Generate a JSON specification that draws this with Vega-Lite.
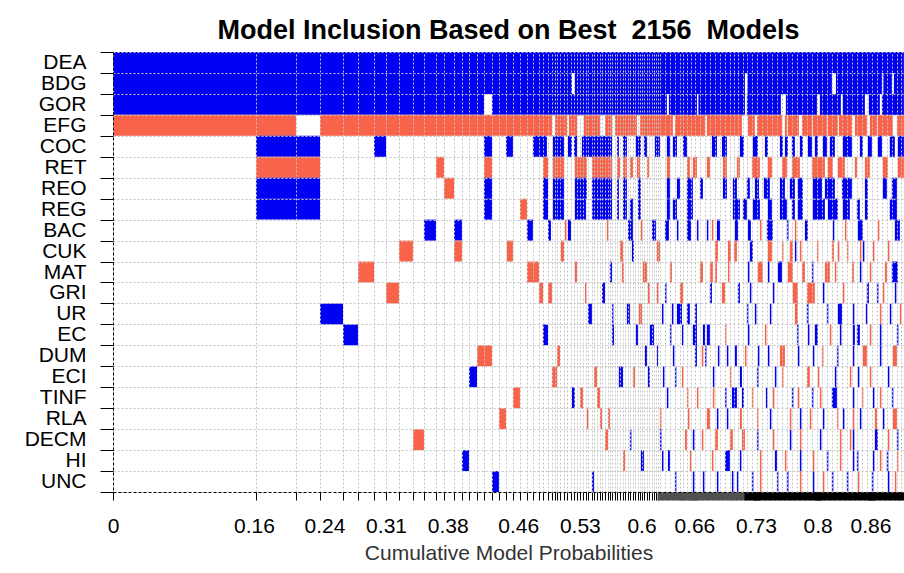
{
"$schema": "https://vega.github.io/schema/vega-lite/v6.json",
"width": 791, "height": 440,
"autosize": {"type": "none"},
"padding": {"left": 113, "top": 52, "right": 0, "bottom": 81},
"background": "white",
"config": {"view": {"stroke": null}},
"title": {"text": "Model Inclusion Based on Best\u00a0 2156\u00a0 Models", "font": "Liberation Sans", "fontSize": 27, "fontWeight": "bold", "color": "black", "anchor": "middle", "offset": -4},
"data": {"values": [
{"v":"DEA","a":0,"b":0.8979,"s":"+"},
{"v":"BDG","a":0,"b":0.521,"s":"+"},{"v":"BDG","a":0.5244,"b":0.7174,"s":"+"},{"v":"BDG","a":0.7202,"b":0.8161,"s":"+"},{"v":"BDG","a":0.8207,"b":0.8729,"s":"+"},{"v":"BDG","a":0.8746,"b":0.8842,"s":"+"},{"v":"BDG","a":0.8865,"b":0.8979,"s":"+"},
{"v":"GOR","a":0,"b":0.4211,"s":"+"},{"v":"GOR","a":0.4302,"b":0.6288,"s":"+"},{"v":"GOR","a":0.6311,"b":0.6629,"s":"+"},{"v":"GOR","a":0.6646,"b":0.7174,"s":"+"},{"v":"GOR","a":0.7196,"b":0.7582,"s":"+"},{"v":"GOR","a":0.7639,"b":0.7991,"s":"+"},{"v":"GOR","a":0.8025,"b":0.8263,"s":"+"},{"v":"GOR","a":0.8286,"b":0.8536,"s":"+"},{"v":"GOR","a":0.8581,"b":0.8706,"s":"+"},{"v":"GOR","a":0.8729,"b":0.8979,"s":"+"},
{"v":"EFG","a":0,"b":0.2077,"s":"-"},{"v":"EFG","a":0.235,"b":0.4983,"s":"-"},{"v":"EFG","a":0.5017,"b":0.5153,"s":"-"},{"v":"EFG","a":0.5176,"b":0.5267,"s":"-"},{"v":"EFG","a":0.5346,"b":0.5528,"s":"-"},{"v":"EFG","a":0.5585,"b":0.5664,"s":"-"},{"v":"EFG","a":0.5698,"b":0.5948,"s":"-"},{"v":"EFG","a":0.5982,"b":0.6356,"s":"-"},{"v":"EFG","a":0.6379,"b":0.672,"s":"-"},{"v":"EFG","a":0.6742,"b":0.714,"s":"-"},{"v":"EFG","a":0.7208,"b":0.7287,"s":"-"},{"v":"EFG","a":0.731,"b":0.7594,"s":"-"},{"v":"EFG","a":0.7628,"b":0.765,"s":"-"},{"v":"EFG","a":0.7662,"b":0.7787,"s":"-"},{"v":"EFG","a":0.7821,"b":0.7934,"s":"-"},{"v":"EFG","a":0.7945,"b":0.8104,"s":"-"},{"v":"EFG","a":0.8116,"b":0.8229,"s":"-"},{"v":"EFG","a":0.8241,"b":0.8388,"s":"-"},{"v":"EFG","a":0.8422,"b":0.8558,"s":"-"},{"v":"EFG","a":0.8592,"b":0.8672,"s":"-"},{"v":"EFG","a":0.8683,"b":0.8854,"s":"-"},{"v":"EFG","a":0.8899,"b":0.8979,"s":"-"},
{"v":"COC","a":0.1623,"b":0.235,"s":"+"},{"v":"COC","a":0.2963,"b":0.3099,"s":"+"},{"v":"COC","a":0.4211,"b":0.4302,"s":"+"},{"v":"COC","a":0.4461,"b":0.454,"s":"+"},{"v":"COC","a":0.4767,"b":0.4926,"s":"+"},{"v":"COC","a":0.4994,"b":0.5119,"s":"+"},{"v":"COC","a":0.5165,"b":0.521,"s":"+"},{"v":"COC","a":0.5233,"b":0.5267,"s":"+"},{"v":"COC","a":0.5323,"b":0.5664,"s":"+"},{"v":"COC","a":0.5721,"b":0.5743,"s":"+"},{"v":"COC","a":0.5789,"b":0.5834,"s":"+"},{"v":"COC","a":0.5936,"b":0.5993,"s":"+"},{"v":"COC","a":0.6027,"b":0.6061,"s":"+"},{"v":"COC","a":0.6152,"b":0.6209,"s":"+"},{"v":"COC","a":0.6288,"b":0.6322,"s":"+"},{"v":"COC","a":0.6356,"b":0.6402,"s":"+"},{"v":"COC","a":0.647,"b":0.6515,"s":"+"},{"v":"COC","a":0.6799,"b":0.6856,"s":"+"},{"v":"COC","a":0.6913,"b":0.6969,"s":"+"},{"v":"COC","a":0.7117,"b":0.7162,"s":"+"},{"v":"COC","a":0.7264,"b":0.7321,"s":"+"},{"v":"COC","a":0.7401,"b":0.7435,"s":"+"},{"v":"COC","a":0.7571,"b":0.7605,"s":"+"},{"v":"COC","a":0.7628,"b":0.7662,"s":"+"},{"v":"COC","a":0.7707,"b":0.7741,"s":"+"},{"v":"COC","a":0.7798,"b":0.7832,"s":"+"},{"v":"COC","a":0.7889,"b":0.7934,"s":"+"},{"v":"COC","a":0.7968,"b":0.8002,"s":"+"},{"v":"COC","a":0.8059,"b":0.8104,"s":"+"},{"v":"COC","a":0.8138,"b":0.8195,"s":"+"},{"v":"COC","a":0.8286,"b":0.8388,"s":"+"},{"v":"COC","a":0.8479,"b":0.8513,"s":"+"},{"v":"COC","a":0.857,"b":0.8615,"s":"+"},{"v":"COC","a":0.8683,"b":0.8729,"s":"+"},{"v":"COC","a":0.8819,"b":0.8876,"s":"+"},{"v":"COC","a":0.891,"b":0.8979,"s":"+"},
{"v":"RET","a":0.1623,"b":0.235,"s":"-"},{"v":"RET","a":0.3666,"b":0.3757,"s":"-"},{"v":"RET","a":0.4211,"b":0.4302,"s":"-"},{"v":"RET","a":0.4881,"b":0.4938,"s":"-"},{"v":"RET","a":0.4994,"b":0.5119,"s":"-"},{"v":"RET","a":0.5244,"b":0.538,"s":"-"},{"v":"RET","a":0.5437,"b":0.5664,"s":"-"},{"v":"RET","a":0.5721,"b":0.5755,"s":"-"},{"v":"RET","a":0.5789,"b":0.5834,"s":"-"},{"v":"RET","a":0.5868,"b":0.5902,"s":"-"},{"v":"RET","a":0.5948,"b":0.5982,"s":"-"},{"v":"RET","a":0.6061,"b":0.6084,"s":"-"},{"v":"RET","a":0.6288,"b":0.6322,"s":"-"},{"v":"RET","a":0.6515,"b":0.6549,"s":"-"},{"v":"RET","a":0.6583,"b":0.6629,"s":"-"},{"v":"RET","a":0.6742,"b":0.6776,"s":"-"},{"v":"RET","a":0.6924,"b":0.6969,"s":"-"},{"v":"RET","a":0.7083,"b":0.7117,"s":"-"},{"v":"RET","a":0.7253,"b":0.7344,"s":"-"},{"v":"RET","a":0.7435,"b":0.748,"s":"-"},{"v":"RET","a":0.7594,"b":0.765,"s":"-"},{"v":"RET","a":0.7707,"b":0.7798,"s":"-"},{"v":"RET","a":0.7934,"b":0.8082,"s":"-"},{"v":"RET","a":0.8116,"b":0.8172,"s":"-"},{"v":"RET","a":0.8229,"b":0.8309,"s":"-"},{"v":"RET","a":0.8422,"b":0.8445,"s":"-"},{"v":"RET","a":0.8536,"b":0.8592,"s":"-"},{"v":"RET","a":0.874,"b":0.8797,"s":"-"},{"v":"RET","a":0.891,"b":0.8979,"s":"-"},
{"v":"REO","a":0.3757,"b":0.3871,"s":"-"},{"v":"REO","a":0.1623,"b":0.235,"s":"+"},{"v":"REO","a":0.4211,"b":0.4302,"s":"+"},{"v":"REO","a":0.4881,"b":0.4938,"s":"+"},{"v":"REO","a":0.4994,"b":0.5119,"s":"+"},{"v":"REO","a":0.5244,"b":0.538,"s":"+"},{"v":"REO","a":0.5437,"b":0.5664,"s":"+"},{"v":"REO","a":0.5721,"b":0.5743,"s":"+"},{"v":"REO","a":0.5789,"b":0.5834,"s":"+"},{"v":"REO","a":0.5959,"b":0.5993,"s":"+"},{"v":"REO","a":0.6288,"b":0.6322,"s":"+"},{"v":"REO","a":0.6402,"b":0.6436,"s":"+"},{"v":"REO","a":0.6515,"b":0.6583,"s":"+"},{"v":"REO","a":0.6663,"b":0.6697,"s":"+"},{"v":"REO","a":0.6924,"b":0.6969,"s":"+"},{"v":"REO","a":0.7037,"b":0.7083,"s":"+"},{"v":"REO","a":0.7196,"b":0.723,"s":"+"},{"v":"REO","a":0.7287,"b":0.7333,"s":"+"},{"v":"REO","a":0.7389,"b":0.7457,"s":"+"},{"v":"REO","a":0.7571,"b":0.7628,"s":"+"},{"v":"REO","a":0.7684,"b":0.7741,"s":"+"},{"v":"REO","a":0.7775,"b":0.7832,"s":"+"},{"v":"REO","a":0.7945,"b":0.8048,"s":"+"},{"v":"REO","a":0.8082,"b":0.8195,"s":"+"},{"v":"REO","a":0.8275,"b":0.8388,"s":"+"},{"v":"REO","a":0.8536,"b":0.857,"s":"+"},{"v":"REO","a":0.874,"b":0.8785,"s":"+"},{"v":"REO","a":0.8842,"b":0.8899,"s":"+"},
{"v":"REG","a":0.462,"b":0.4699,"s":"-"},{"v":"REG","a":0.1623,"b":0.235,"s":"+"},{"v":"REG","a":0.4211,"b":0.4302,"s":"+"},{"v":"REG","a":0.4881,"b":0.4938,"s":"+"},{"v":"REG","a":0.4994,"b":0.5119,"s":"+"},{"v":"REG","a":0.5244,"b":0.5369,"s":"+"},{"v":"REG","a":0.5437,"b":0.5664,"s":"+"},{"v":"REG","a":0.5721,"b":0.5743,"s":"+"},{"v":"REG","a":0.5789,"b":0.5834,"s":"+"},{"v":"REG","a":0.5868,"b":0.5902,"s":"+"},{"v":"REG","a":0.5959,"b":0.5993,"s":"+"},{"v":"REG","a":0.6288,"b":0.6322,"s":"+"},{"v":"REG","a":0.6356,"b":0.6402,"s":"+"},{"v":"REG","a":0.6515,"b":0.6583,"s":"+"},{"v":"REG","a":0.7037,"b":0.7117,"s":"+"},{"v":"REG","a":0.7151,"b":0.7196,"s":"+"},{"v":"REG","a":0.7264,"b":0.7344,"s":"+"},{"v":"REG","a":0.7435,"b":0.748,"s":"+"},{"v":"REG","a":0.7571,"b":0.765,"s":"+"},{"v":"REG","a":0.7707,"b":0.7741,"s":"+"},{"v":"REG","a":0.7775,"b":0.7832,"s":"+"},{"v":"REG","a":0.7945,"b":0.8082,"s":"+"},{"v":"REG","a":0.8116,"b":0.8229,"s":"+"},{"v":"REG","a":0.8286,"b":0.8365,"s":"+"},{"v":"REG","a":0.8445,"b":0.8479,"s":"+"},{"v":"REG","a":0.8536,"b":0.857,"s":"+"},{"v":"REG","a":0.8819,"b":0.8899,"s":"+"},
{"v":"BAC","a":0.353,"b":0.3666,"s":"+"},{"v":"BAC","a":0.3871,"b":0.3961,"s":"+"},{"v":"BAC","a":0.4699,"b":0.4767,"s":"+"},{"v":"BAC","a":0.4938,"b":0.4972,"s":"+"},{"v":"BAC","a":0.5165,"b":0.5199,"s":"+"},{"v":"BAC","a":0.5846,"b":0.5902,"s":"+"},{"v":"BAC","a":0.6118,"b":0.6163,"s":"+"},{"v":"BAC","a":0.6266,"b":0.6311,"s":"+"},{"v":"BAC","a":0.6402,"b":0.6419,"s":"+"},{"v":"BAC","a":0.6515,"b":0.6561,"s":"+"},{"v":"BAC","a":0.6629,"b":0.6646,"s":"+"},{"v":"BAC","a":0.6742,"b":0.6759,"s":"+"},{"v":"BAC","a":0.6856,"b":0.689,"s":"+"},{"v":"BAC","a":0.706,"b":0.7094,"s":"+"},{"v":"BAC","a":0.7208,"b":0.7242,"s":"+"},{"v":"BAC","a":0.7423,"b":0.7491,"s":"+"},{"v":"BAC","a":0.765,"b":0.7668,"s":"+"},{"v":"BAC","a":0.7855,"b":0.7889,"s":"+"},{"v":"BAC","a":0.8172,"b":0.8189,"s":"+"},{"v":"BAC","a":0.8456,"b":0.8513,"s":"+"},{"v":"BAC","a":0.8876,"b":0.8933,"s":"+"},{"v":"BAC","a":0.5131,"b":0.5148,"s":"-"},{"v":"BAC","a":0.5607,"b":0.5624,"s":"-"},{"v":"BAC","a":0.5993,"b":0.601,"s":"-"},{"v":"BAC","a":0.6799,"b":0.6816,"s":"-"},{"v":"BAC","a":0.7344,"b":0.7361,"s":"-"},{"v":"BAC","a":0.7741,"b":0.7758,"s":"-"},{"v":"BAC","a":0.8309,"b":0.8326,"s":"-"},{"v":"BAC","a":0.8683,"b":0.87,"s":"-"},
{"v":"CUK","a":0.3246,"b":0.3405,"s":"-"},{"v":"CUK","a":0.3871,"b":0.3961,"s":"-"},{"v":"CUK","a":0.4472,"b":0.454,"s":"-"},{"v":"CUK","a":0.5085,"b":0.5119,"s":"-"},{"v":"CUK","a":0.5755,"b":0.5789,"s":"-"},{"v":"CUK","a":0.6175,"b":0.6209,"s":"-"},{"v":"CUK","a":0.6833,"b":0.6867,"s":"-"},{"v":"CUK","a":0.6981,"b":0.7015,"s":"-"},{"v":"CUK","a":0.7049,"b":0.7083,"s":"-"},{"v":"CUK","a":0.7435,"b":0.748,"s":"-"},{"v":"CUK","a":0.7594,"b":0.7611,"s":"-"},{"v":"CUK","a":0.7684,"b":0.7718,"s":"-"},{"v":"CUK","a":0.7798,"b":0.7815,"s":"-"},{"v":"CUK","a":0.7991,"b":0.8008,"s":"-"},{"v":"CUK","a":0.8161,"b":0.8184,"s":"-"},{"v":"CUK","a":0.8229,"b":0.8246,"s":"-"},{"v":"CUK","a":0.8331,"b":0.8348,"s":"-"},{"v":"CUK","a":0.8479,"b":0.8496,"s":"-"},{"v":"CUK","a":0.8627,"b":0.8644,"s":"-"},{"v":"CUK","a":0.8797,"b":0.8814,"s":"-"},{"v":"CUK","a":0.5891,"b":0.5914,"s":"+"},{"v":"CUK","a":0.723,"b":0.7264,"s":"+"},{"v":"CUK","a":0.7741,"b":0.7758,"s":"+"},{"v":"CUK","a":0.8513,"b":0.853,"s":"+"},
{"v":"MAT","a":0.2781,"b":0.2963,"s":"-"},{"v":"MAT","a":0.4699,"b":0.4835,"s":"-"},{"v":"MAT","a":0.5244,"b":0.5267,"s":"-"},{"v":"MAT","a":0.5778,"b":0.58,"s":"-"},{"v":"MAT","a":0.6016,"b":0.6061,"s":"-"},{"v":"MAT","a":0.6322,"b":0.6345,"s":"-"},{"v":"MAT","a":0.6663,"b":0.6697,"s":"-"},{"v":"MAT","a":0.6776,"b":0.681,"s":"-"},{"v":"MAT","a":0.6833,"b":0.6856,"s":"-"},{"v":"MAT","a":0.6981,"b":0.6998,"s":"-"},{"v":"MAT","a":0.7321,"b":0.7378,"s":"-"},{"v":"MAT","a":0.7662,"b":0.7718,"s":"-"},{"v":"MAT","a":0.7821,"b":0.7855,"s":"-"},{"v":"MAT","a":0.8082,"b":0.8138,"s":"-"},{"v":"MAT","a":0.8195,"b":0.8212,"s":"-"},{"v":"MAT","a":0.8388,"b":0.8411,"s":"-"},{"v":"MAT","a":0.8592,"b":0.8609,"s":"-"},{"v":"MAT","a":0.8763,"b":0.8785,"s":"-"},{"v":"MAT","a":0.5641,"b":0.5664,"s":"+"},{"v":"MAT","a":0.7208,"b":0.7225,"s":"+"},{"v":"MAT","a":0.7435,"b":0.7452,"s":"+"},{"v":"MAT","a":0.7548,"b":0.7594,"s":"+"},{"v":"MAT","a":0.8842,"b":0.891,"s":"+"},{"v":"MAT","a":0.7934,"b":0.7951,"s":"+"},{"v":"MAT","a":0.8479,"b":0.8496,"s":"+"},
{"v":"GRI","a":0.3099,"b":0.3246,"s":"-"},{"v":"GRI","a":0.4835,"b":0.4881,"s":"-"},{"v":"GRI","a":0.4938,"b":0.4983,"s":"-"},{"v":"GRI","a":0.5358,"b":0.5375,"s":"-"},{"v":"GRI","a":0.6073,"b":0.6095,"s":"-"},{"v":"GRI","a":0.6175,"b":0.6192,"s":"-"},{"v":"GRI","a":0.6436,"b":0.647,"s":"-"},{"v":"GRI","a":0.6913,"b":0.6947,"s":"-"},{"v":"GRI","a":0.7718,"b":0.7775,"s":"-"},{"v":"GRI","a":0.7877,"b":0.7968,"s":"-"},{"v":"GRI","a":0.8286,"b":0.8303,"s":"-"},{"v":"GRI","a":0.874,"b":0.8757,"s":"-"},{"v":"GRI","a":0.5551,"b":0.5585,"s":"+"},{"v":"GRI","a":0.6266,"b":0.6283,"s":"+"},{"v":"GRI","a":0.6776,"b":0.6799,"s":"+"},{"v":"GRI","a":0.7094,"b":0.7117,"s":"+"},{"v":"GRI","a":0.723,"b":0.7247,"s":"+"},{"v":"GRI","a":0.7491,"b":0.7508,"s":"+"},{"v":"GRI","a":0.8059,"b":0.8076,"s":"+"},{"v":"GRI","a":0.8558,"b":0.8581,"s":"+"},{"v":"GRI","a":0.8672,"b":0.8689,"s":"+"},{"v":"GRI","a":0.8876,"b":0.8893,"s":"+"},
{"v":"UR","a":0.235,"b":0.2611,"s":"+"},{"v":"UR","a":0.5392,"b":0.5437,"s":"+"},{"v":"UR","a":0.5664,"b":0.5681,"s":"+"},{"v":"UR","a":0.5834,"b":0.5868,"s":"+"},{"v":"UR","a":0.6232,"b":0.6249,"s":"+"},{"v":"UR","a":0.6345,"b":0.6362,"s":"+"},{"v":"UR","a":0.6402,"b":0.6459,"s":"+"},{"v":"UR","a":0.6515,"b":0.6549,"s":"+"},{"v":"UR","a":0.6606,"b":0.6629,"s":"+"},{"v":"UR","a":0.7196,"b":0.7213,"s":"+"},{"v":"UR","a":0.7287,"b":0.7304,"s":"+"},{"v":"UR","a":0.7457,"b":0.7474,"s":"+"},{"v":"UR","a":0.7877,"b":0.7895,"s":"+"},{"v":"UR","a":0.8104,"b":0.8121,"s":"+"},{"v":"UR","a":0.8229,"b":0.8275,"s":"+"},{"v":"UR","a":0.8399,"b":0.8416,"s":"+"},{"v":"UR","a":0.8547,"b":0.8564,"s":"+"},{"v":"UR","a":0.8819,"b":0.8836,"s":"+"},{"v":"UR","a":0.597,"b":0.6005,"s":"-"},{"v":"UR","a":0.7741,"b":0.7775,"s":"-"},{"v":"UR","a":0.8706,"b":0.8723,"s":"-"},{"v":"UR","a":0.8933,"b":0.895,"s":"-"},
{"v":"EC","a":0.2611,"b":0.2781,"s":"+"},{"v":"EC","a":0.4881,"b":0.4938,"s":"+"},{"v":"EC","a":0.5664,"b":0.5687,"s":"+"},{"v":"EC","a":0.5936,"b":0.5959,"s":"+"},{"v":"EC","a":0.6095,"b":0.6141,"s":"+"},{"v":"EC","a":0.6322,"b":0.6339,"s":"+"},{"v":"EC","a":0.6459,"b":0.6476,"s":"+"},{"v":"EC","a":0.6583,"b":0.6629,"s":"+"},{"v":"EC","a":0.6697,"b":0.672,"s":"+"},{"v":"EC","a":0.6742,"b":0.6776,"s":"+"},{"v":"EC","a":0.7208,"b":0.7225,"s":"+"},{"v":"EC","a":0.7764,"b":0.7781,"s":"+"},{"v":"EC","a":0.7889,"b":0.7906,"s":"+"},{"v":"EC","a":0.7968,"b":0.8002,"s":"+"},{"v":"EC","a":0.8252,"b":0.8269,"s":"+"},{"v":"EC","a":0.8399,"b":0.8422,"s":"+"},{"v":"EC","a":0.8445,"b":0.8479,"s":"+"},{"v":"EC","a":0.8706,"b":0.8723,"s":"+"},{"v":"EC","a":0.8899,"b":0.8916,"s":"+"},{"v":"EC","a":0.6947,"b":0.6964,"s":"-"},{"v":"EC","a":0.7401,"b":0.7418,"s":"-"},{"v":"EC","a":0.8138,"b":0.8155,"s":"-"},{"v":"EC","a":0.8592,"b":0.8609,"s":"-"},
{"v":"DUM","a":0.4132,"b":0.4302,"s":"-"},{"v":"DUM","a":0.504,"b":0.5074,"s":"-"},{"v":"DUM","a":0.7571,"b":0.7628,"s":"-"},{"v":"DUM","a":0.8513,"b":0.8558,"s":"-"},{"v":"DUM","a":0.8854,"b":0.8899,"s":"-"},{"v":"DUM","a":0.7174,"b":0.7191,"s":"-"},{"v":"DUM","a":0.8048,"b":0.8065,"s":"-"},{"v":"DUM","a":0.6685,"b":0.6702,"s":"-"},{"v":"DUM","a":0.6039,"b":0.6061,"s":"+"},{"v":"DUM","a":0.6175,"b":0.6186,"s":"+"},{"v":"DUM","a":0.6356,"b":0.6373,"s":"+"},{"v":"DUM","a":0.6606,"b":0.6629,"s":"+"},{"v":"DUM","a":0.672,"b":0.6737,"s":"+"},{"v":"DUM","a":0.6867,"b":0.6884,"s":"+"},{"v":"DUM","a":0.6969,"b":0.6986,"s":"+"},{"v":"DUM","a":0.706,"b":0.7083,"s":"+"},{"v":"DUM","a":0.7321,"b":0.7338,"s":"+"},{"v":"DUM","a":0.7435,"b":0.7452,"s":"+"},{"v":"DUM","a":0.7775,"b":0.7792,"s":"+"},{"v":"DUM","a":0.7945,"b":0.7962,"s":"+"},{"v":"DUM","a":0.8218,"b":0.8235,"s":"+"},{"v":"DUM","a":0.8399,"b":0.8416,"s":"+"},{"v":"DUM","a":0.8706,"b":0.8723,"s":"+"},
{"v":"ECI","a":0.4041,"b":0.4132,"s":"+"},{"v":"ECI","a":0.5743,"b":0.5789,"s":"+"},{"v":"ECI","a":0.6073,"b":0.6095,"s":"+"},{"v":"ECI","a":0.6243,"b":0.626,"s":"+"},{"v":"ECI","a":0.6379,"b":0.6396,"s":"+"},{"v":"ECI","a":0.681,"b":0.6827,"s":"+"},{"v":"ECI","a":0.7117,"b":0.714,"s":"+"},{"v":"ECI","a":0.731,"b":0.7327,"s":"+"},{"v":"ECI","a":0.7514,"b":0.7531,"s":"+"},{"v":"ECI","a":0.8195,"b":0.8212,"s":"+"},{"v":"ECI","a":0.8456,"b":0.8473,"s":"+"},{"v":"ECI","a":0.8797,"b":0.8814,"s":"+"},{"v":"ECI","a":0.4983,"b":0.504,"s":"-"},{"v":"ECI","a":0.546,"b":0.5494,"s":"-"},{"v":"ECI","a":0.5902,"b":0.5925,"s":"-"},{"v":"ECI","a":0.6459,"b":0.6476,"s":"-"},{"v":"ECI","a":0.7003,"b":0.702,"s":"-"},{"v":"ECI","a":0.7594,"b":0.7611,"s":"-"},{"v":"ECI","a":0.7877,"b":0.7911,"s":"-"},{"v":"ECI","a":0.8002,"b":0.8019,"s":"-"},{"v":"ECI","a":0.8365,"b":0.8382,"s":"-"},{"v":"ECI","a":0.8592,"b":0.8609,"s":"-"},
{"v":"TINF","a":0.454,"b":0.462,"s":"-"},{"v":"TINF","a":0.5301,"b":0.5335,"s":"-"},{"v":"TINF","a":0.5494,"b":0.5528,"s":"-"},{"v":"TINF","a":0.6515,"b":0.6532,"s":"-"},{"v":"TINF","a":0.6629,"b":0.6646,"s":"-"},{"v":"TINF","a":0.681,"b":0.6827,"s":"-"},{"v":"TINF","a":0.7253,"b":0.727,"s":"-"},{"v":"TINF","a":0.7491,"b":0.7508,"s":"-"},{"v":"TINF","a":0.7775,"b":0.7792,"s":"-"},{"v":"TINF","a":0.8025,"b":0.8042,"s":"-"},{"v":"TINF","a":0.8502,"b":0.8518,"s":"-"},{"v":"TINF","a":0.8706,"b":0.8723,"s":"-"},{"v":"TINF","a":0.521,"b":0.5244,"s":"+"},{"v":"TINF","a":0.6288,"b":0.6305,"s":"+"},{"v":"TINF","a":0.6947,"b":0.6964,"s":"+"},{"v":"TINF","a":0.7026,"b":0.7083,"s":"+"},{"v":"TINF","a":0.714,"b":0.7162,"s":"+"},{"v":"TINF","a":0.7412,"b":0.7429,"s":"+"},{"v":"TINF","a":0.7707,"b":0.7724,"s":"+"},{"v":"TINF","a":0.7934,"b":0.7951,"s":"+"},{"v":"TINF","a":0.8161,"b":0.8218,"s":"+"},{"v":"TINF","a":0.8399,"b":0.8416,"s":"+"},{"v":"TINF","a":0.8627,"b":0.8644,"s":"+"},{"v":"TINF","a":0.8842,"b":0.8859,"s":"+"},
{"v":"RLA","a":0.4381,"b":0.4461,"s":"-"},{"v":"RLA","a":0.538,"b":0.5397,"s":"-"},{"v":"RLA","a":0.5528,"b":0.5551,"s":"-"},{"v":"RLA","a":0.5619,"b":0.5641,"s":"-"},{"v":"RLA","a":0.6209,"b":0.6226,"s":"-"},{"v":"RLA","a":0.6527,"b":0.6544,"s":"-"},{"v":"RLA","a":0.6742,"b":0.6776,"s":"-"},{"v":"RLA","a":0.7117,"b":0.714,"s":"-"},{"v":"RLA","a":0.731,"b":0.7327,"s":"-"},{"v":"RLA","a":0.7684,"b":0.7701,"s":"-"},{"v":"RLA","a":0.7911,"b":0.7928,"s":"-"},{"v":"RLA","a":0.8218,"b":0.8235,"s":"-"},{"v":"RLA","a":0.8399,"b":0.8416,"s":"-"},{"v":"RLA","a":0.8649,"b":0.8672,"s":"-"},{"v":"RLA","a":0.8854,"b":0.8899,"s":"-"},{"v":"RLA","a":0.6856,"b":0.6873,"s":"+"},{"v":"RLA","a":0.6969,"b":0.6986,"s":"+"},{"v":"RLA","a":0.7457,"b":0.7474,"s":"+"},{"v":"RLA","a":0.7798,"b":0.7815,"s":"+"},{"v":"RLA","a":0.8059,"b":0.8076,"s":"+"},{"v":"RLA","a":0.8286,"b":0.8303,"s":"+"},{"v":"RLA","a":0.8479,"b":0.8496,"s":"+"},{"v":"RLA","a":0.874,"b":0.8757,"s":"+"},
{"v":"DECM","a":0.3405,"b":0.353,"s":"-"},{"v":"DECM","a":0.5585,"b":0.5619,"s":"-"},{"v":"DECM","a":0.6493,"b":0.6515,"s":"-"},{"v":"DECM","a":0.6685,"b":0.6702,"s":"-"},{"v":"DECM","a":0.6833,"b":0.6867,"s":"-"},{"v":"DECM","a":0.7003,"b":0.7037,"s":"-"},{"v":"DECM","a":0.714,"b":0.7174,"s":"-"},{"v":"DECM","a":0.7491,"b":0.7508,"s":"-"},{"v":"DECM","a":0.7798,"b":0.7815,"s":"-"},{"v":"DECM","a":0.8252,"b":0.8269,"s":"-"},{"v":"DECM","a":0.8365,"b":0.8382,"s":"-"},{"v":"DECM","a":0.8797,"b":0.8814,"s":"-"},{"v":"DECM","a":0.5868,"b":0.5885,"s":"+"},{"v":"DECM","a":0.6209,"b":0.6226,"s":"+"},{"v":"DECM","a":0.6583,"b":0.66,"s":"+"},{"v":"DECM","a":0.731,"b":0.7327,"s":"+"},{"v":"DECM","a":0.7684,"b":0.7701,"s":"+"},{"v":"DECM","a":0.8025,"b":0.8042,"s":"+"},{"v":"DECM","a":0.8399,"b":0.8416,"s":"+"},{"v":"DECM","a":0.8649,"b":0.8683,"s":"+"},{"v":"DECM","a":0.8899,"b":0.8916,"s":"+"},
{"v":"HI","a":0.3961,"b":0.4041,"s":"+"},{"v":"HI","a":0.5993,"b":0.6027,"s":"+"},{"v":"HI","a":0.6232,"b":0.6249,"s":"+"},{"v":"HI","a":0.63,"b":0.6322,"s":"+"},{"v":"HI","a":0.6947,"b":0.7003,"s":"+"},{"v":"HI","a":0.7117,"b":0.7134,"s":"+"},{"v":"HI","a":0.7514,"b":0.7537,"s":"+"},{"v":"HI","a":0.7798,"b":0.7815,"s":"+"},{"v":"HI","a":0.8104,"b":0.8121,"s":"+"},{"v":"HI","a":0.8399,"b":0.8416,"s":"+"},{"v":"HI","a":0.8445,"b":0.8462,"s":"+"},{"v":"HI","a":0.8627,"b":0.8644,"s":"+"},{"v":"HI","a":0.8785,"b":0.8802,"s":"+"},{"v":"HI","a":0.5789,"b":0.5812,"s":"-"},{"v":"HI","a":0.6549,"b":0.6566,"s":"-"},{"v":"HI","a":0.6799,"b":0.6816,"s":"-"},{"v":"HI","a":0.7344,"b":0.7361,"s":"-"},{"v":"HI","a":0.7628,"b":0.7645,"s":"-"},{"v":"HI","a":0.7945,"b":0.7962,"s":"-"},{"v":"HI","a":0.8252,"b":0.8269,"s":"-"},{"v":"HI","a":0.8706,"b":0.8723,"s":"-"},{"v":"HI","a":0.8899,"b":0.8916,"s":"-"},
{"v":"UNC","a":0.4302,"b":0.4381,"s":"+"},{"v":"UNC","a":0.5437,"b":0.546,"s":"+"},{"v":"UNC","a":0.6379,"b":0.6396,"s":"+"},{"v":"UNC","a":0.6583,"b":0.66,"s":"+"},{"v":"UNC","a":0.6697,"b":0.6714,"s":"+"},{"v":"UNC","a":0.6856,"b":0.6873,"s":"+"},{"v":"UNC","a":0.7026,"b":0.7043,"s":"+"},{"v":"UNC","a":0.7083,"b":0.71,"s":"+"},{"v":"UNC","a":0.7253,"b":0.727,"s":"+"},{"v":"UNC","a":0.7537,"b":0.7554,"s":"+"},{"v":"UNC","a":0.765,"b":0.7668,"s":"+"},{"v":"UNC","a":0.7945,"b":0.7962,"s":"+"},{"v":"UNC","a":0.8161,"b":0.8178,"s":"+"},{"v":"UNC","a":0.8331,"b":0.8348,"s":"+"},{"v":"UNC","a":0.8615,"b":0.8632,"s":"+"},{"v":"UNC","a":0.8797,"b":0.8814,"s":"+"},{"v":"UNC","a":0.7344,"b":0.7361,"s":"-"},{"v":"UNC","a":0.7798,"b":0.7815,"s":"-"},{"v":"UNC","a":0.8059,"b":0.8076,"s":"-"},{"v":"UNC","a":0.8456,"b":0.8473,"s":"-"},{"v":"UNC","a":0.8876,"b":0.8893,"s":"-"}
]},
"mark": {"type": "rect"},
"encoding": {
  "x": {"field": "a", "type": "quantitative",
    "scale": {"domain": [0, 0.898], "nice": false, "zero": false},
    "axis": {
      "title": "Cumulative Model Probabilities", "titleFont": "Liberation Sans", "titleFontSize": 21, "titleFontWeight": "normal", "titleColor": "#333333", "titlePadding": 6,
      "values": [0,0.1623,0.2077,0.235,0.2611,0.2781,0.2963,0.3099,0.3246,0.3405,0.353,0.3666,0.3757,0.3871,0.3961,0.4041,0.4132,0.4211,0.4302,0.4381,0.4461,0.454,0.462,0.4699,0.4767,0.4835,0.4881,0.4938,0.4983,0.5017,0.504,0.5074,0.5119,0.5153,0.5199,0.5233,0.5267,0.5301,0.5335,0.5369,0.5392,0.5437,0.546,0.5494,0.5528,0.5551,0.5585,0.5619,0.5641,0.5664,0.5698,0.5721,0.5755,0.5789,0.5812,0.5846,0.5868,0.5902,0.5925,0.5959,0.5982,0.6005,0.6027,0.6061,0.6084,0.6118,0.6141,0.6163,0.6186,0.6209,0.6266,0.6322,0.6379,0.6436,0.647,0.6515,0.6561,0.6606,0.6663,0.672,0.6776,0.6833,0.689,0.6947,0.7003,0.7049,0.7094,0.7151,0.7196,0.7253,0.731,0.7367,0.7423,0.748,0.7537,0.7594,0.765,0.7707,0.7764,0.7821,0.7877,0.7934,0.7991,0.8048,0.8104,0.8161,0.8218,0.8275,0.8331,0.8388,0.8445,0.8502,0.8558,0.8615,0.8672,0.8729,0.8785,0.8842,0.8899,0.895,0.16,0.24,0.31,0.38,0.46,0.53,0.6,0.66,0.73,0.8,0.86],
      "labelExpr": "indexof([0,0.16,0.24,0.31,0.38,0.46,0.53,0.6,0.66,0.73,0.8,0.86], datum.value) >= 0 ? format(datum.value, '.2~f') : ''",
      "labelFont": "Liberation Sans", "labelFontSize": 21, "labelColor": "black", "labelPadding": 15,
      "labelOverlap": false, "labelFlush": false, "labelBound": false,
      "tickSize": 8,
      "tickColor": {"condition": {"test": "datum.value > 0.62 && datum.value < 0.717", "value": "#505050"}, "value": "black"},
      "tickWidth": {"condition": {"test": "datum.value > 0.62", "value": 6}, "value": 1},
      "tickOpacity": {"condition": {"test": "datum.value < 0.62 && indexof([0.16,0.24,0.31,0.38,0.46,0.53,0.6], datum.value) >= 0", "value": 0}, "value": 1},
      "grid": true, "gridColor": "#c4c4c4", "gridDash": [2, 2], "gridWidth": 1,
      "gridOpacity": {"condition": {"test": "indexof([0.16,0.24,0.31,0.38,0.46,0.53,0.6,0.66,0.73,0.8,0.86], datum.value) >= 0", "value": 0}, "value": 1},
      "domainColor": "black", "domainDash": [3, 2], "domainWidth": 1,
      "zindex": 1
    }},
  "x2": {"field": "b"},
  "y": {"field": "v", "type": "nominal",
    "scale": {"domain": ["DEA","BDG","GOR","EFG","COC","RET","REO","REG","BAC","CUK","MAT","GRI","UR","EC","DUM","ECI","TINF","RLA","DECM","HI","UNC"], "paddingInner": 0, "paddingOuter": 0},
    "axis": {"title": null, "tickBand": "extent", "labelFont": "Liberation Sans", "labelFontSize": 21, "labelColor": "black", "labelPadding": 14,
      "tickSize": 13, "tickColor": "black", "grid": true, "gridColor": "#c4c4c4", "gridDash": [2, 2],
      "domainColor": "black", "domainDash": [3, 2], "zindex": 1}},
  "color": {"field": "s", "type": "nominal", "scale": {"domain": ["+", "-"], "range": ["#0000F2", "#F8634A"]}, "legend": null}
}
}
